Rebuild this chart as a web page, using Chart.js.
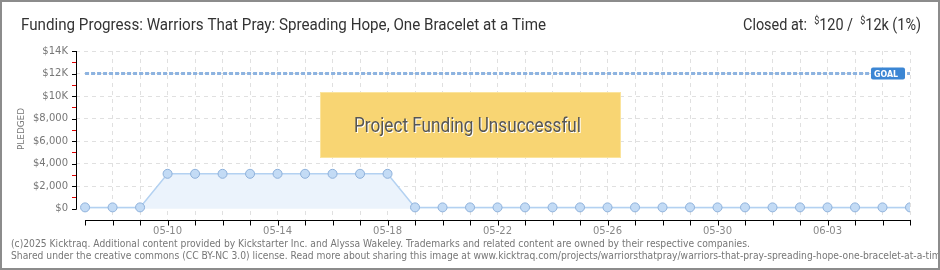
<!DOCTYPE html>
<html>
<head>
<meta charset="utf-8">
<script src="https://cdn.jsdelivr.net/npm/chart.js@4.4.0/dist/chart.umd.min.js"></script>
<style>
  html, body { margin: 0; padding: 0; background: #fff; }
  #wrap { position: relative; width: 940px; height: 270px; }
  #frame { position: absolute; left: 0; top: 0; width: 940px; height: 270px; box-sizing: border-box; border: 2px solid #8c8c8c; pointer-events: none; }
</style>
</head>
<body>
<div id="wrap">
  <canvas id="chart" width="940" height="270"></canvas>
  <div id="frame"></div>
</div>
<script>
// daily pledge totals, 05-07 .. 06-06
const dates = ['05-07', '05-08', '05-09', '05-10', '05-11', '05-12', '05-13', '05-14', '05-15', '05-16',
  '05-17', '05-18', '05-19', '05-20', '05-21', '05-22', '05-23', '05-24', '05-25', '05-26',
  '05-27', '05-28', '05-29', '05-30', '05-31', '06-01', '06-02', '06-03', '06-04', '06-05', '06-06']
const pledged = [120, 120, 120, 3100, 3100, 3100, 3100, 3100, 3100, 3100,
  3100, 3100, 120, 120, 120, 120, 120, 120, 120, 120,
  120, 120, 120, 120, 120, 120, 120, 120, 120, 120, 120]
const goal = 12000
const yTickValues = [0, 2000, 4000, 6000, 8000, 10000, 12000, 14000]
const yTickLabels = ['$0', '$2,000', '$4,000', '$6,000', '$8,000', '$10K', '$12K', '$14K']
const xLabelEvery = 4
const xLabelStart = 3

const title = 'Funding Progress: Warriors That Pray: Spreading Hope, One Bracelet at a Time'
const footer1 = '(c)2025 Kicktraq. Additional content provided by Kickstarter Inc. and Alyssa Wakeley. Trademarks and related content are owned by their respective companies.'
const footer2 = 'Shared under the creative commons (CC BY-NC 3.0) license. Read more about sharing this image at www.kicktraq.com/projects/warriorsthatpray/warriors-that-pray-spreading-hope-one-bracelet-at-a-time/'

function fitText(ctx, text, x, y, width) {
  const w = ctx.measureText(text).width
  ctx.save()
  ctx.translate(x, y)
  ctx.scale(width / w, 1)
  ctx.textAlign = 'left'
  ctx.fillText(text, 0, 0)
  ctx.restore()
  return width / w
}

const axesPlugin = {
  id: 'axes',
  afterDatasetsDraw(chart) {
    const { ctx, chartArea: a, scales: { x, y } } = chart
    ctx.save()
    ctx.lineWidth = 1
    ctx.strokeStyle = '#000'
    // y axis line
    ctx.beginPath()
    ctx.moveTo(a.left + 0.5, y.getPixelForValue(14000))
    ctx.lineTo(a.left + 0.5, y.getPixelForValue(0) + 1)
    ctx.stroke()
    for (let v = 0; v <= 14000; v += 1000) {
      const py = Math.round(y.getPixelForValue(v)) + 0.5
      ctx.strokeStyle = v % 2000 ? '#e00000' : '#000'
      ctx.beginPath()
      ctx.moveTo(a.left - 4, py)
      ctx.lineTo(a.left, py)
      ctx.stroke()
    }
    // x axis line
    ctx.strokeStyle = '#000'
    const by = Math.round(a.bottom) + 0.5
    ctx.beginPath()
    ctx.moveTo(x.getPixelForValue(0), by)
    ctx.lineTo(x.getPixelForValue(dates.length - 1) + 1, by)
    ctx.stroke()
    for (let i = 0; i < dates.length; i++) {
      const px = Math.round(x.getPixelForValue(i)) + 0.5
      ctx.beginPath()
      ctx.moveTo(px, by)
      ctx.lineTo(px, by + 5)
      ctx.stroke()
    }
    ctx.restore()
  },
  afterDraw(chart) {
    const { ctx, scales: { x, y } } = chart
    ctx.save()
    ctx.textBaseline = 'alphabetic'

    // title
    ctx.fillStyle = '#333'
    ctx.font = '16px Roboto'
    fitText(ctx, title, 21, 30, 525)

    // closed at
    const parts = [['Closed at:  ', 16, 0], ['$', 10, -6], ['120 /  ', 16, 0], ['$', 10, -6], ['12k (1%)', 16, 0]]
    let total = 0
    parts.forEach(p => { ctx.font = p[1] + 'px Roboto'; total += ctx.measureText(p[0]).width })
    const k = 178 / total
    ctx.save()
    ctx.translate(743, 30)
    ctx.scale(k, 1)
    let cx = 0
    parts.forEach(p => {
      ctx.font = p[1] + 'px Roboto'
      ctx.fillText(p[0], cx, p[2])
      cx += ctx.measureText(p[0]).width
    })
    ctx.restore()

    // y axis title
    ctx.save()
    ctx.translate(24, 150)
    ctx.rotate(-Math.PI / 2)
    ctx.fillStyle = '#777'
    ctx.font = '9px "DejaVu Sans"'
    fitText(ctx, 'PLEDGED', 0, 0, 42)
    ctx.restore()

    // goal tag
    const gy = y.getPixelForValue(goal)
    ctx.fillStyle = '#3b86d4'
    ctx.beginPath()
    ctx.roundRect(871, gy - 6, 34, 12, 2)
    ctx.fill()
    ctx.fillStyle = '#fff'
    ctx.font = 'bold 9px "DejaVu Sans"'
    fitText(ctx, 'GOAL', 874, gy + 3.5, 24)

    // unsuccessful banner
    ctx.fillStyle = '#f8d573'
    ctx.fillRect(320, 92, 301, 66)
    ctx.strokeStyle = '#fbe49d'
    ctx.strokeRect(320.5, 92.5, 300, 65)
    ctx.font = '20px Roboto'
    ctx.fillStyle = '#fff'
    fitText(ctx, 'Project Funding Unsuccessful', 355, 133, 227)
    ctx.fillStyle = '#555'
    fitText(ctx, 'Project Funding Unsuccessful', 354, 132, 227)

    // footer
    ctx.fillStyle = '#777'
    ctx.font = '10px "DejaVu Sans"'
    const fk = fitText(ctx, footer1, 11, 247, 739)
    ctx.save()
    ctx.translate(11, 259)
    ctx.scale(fk, 1)
    ctx.fillText(footer2, 0, 0)
    ctx.restore()

    ctx.restore()
  }
}

new Chart(document.getElementById('chart'), {
  type: 'line',
  data: {
    datasets: [
      {
        label: 'Goal',
        data: [{ x: 0, y: goal }, { x: dates.length - 1, y: goal }],
        borderColor: '#8db3e0',
        borderWidth: 3,
        borderDash: [4, 2],
        pointRadius: 0,
        fill: false
      },
      {
        label: 'Pledged',
        data: pledged.map((v, i) => ({ x: i, y: v })),
        borderColor: '#b3d1f1',
        borderWidth: 1.5,
        backgroundColor: '#ebf3fc',
        fill: 'origin',
        tension: 0,
        pointRadius: 4.5,
        pointBackgroundColor: '#c3dbf5',
        pointBorderColor: '#8eb1db',
        pointBorderWidth: 1
      }
    ]
  },
  options: {
    responsive: false,
    animation: false,
    layout: { padding: { top: 51, right: 30, left: 0, bottom: 0 } },
    plugins: {
      legend: { display: false },
      tooltip: { enabled: false }
    },
    scales: {
      x: {
        type: 'linear',
        min: -0.33,
        max: dates.length - 1,
        afterFit: s => { s.height = 50 },
        border: { display: false, dash: [4, 4] },
        grid: {
          drawTicks: false,
          color: c => Number.isInteger(c.tick.value) && c.tick.value >= 0 ? '#e0e0e0' : 'transparent'
        },
        ticks: {
          stepSize: 1,
          autoSkip: false,
          maxRotation: 0,
          padding: 5,
          color: '#888',
          font: { family: 'DejaVu Sans', size: 10 },
          callback: v => (Number.isInteger(v) && v >= xLabelStart && (v - xLabelStart) % xLabelEvery === 0) ? dates[v] : ''
        }
      },
      y: {
        min: -1000,
        max: 14000,
        afterFit: s => { s.width = 76 },
        border: { display: false, dash: [4, 4] },
        grid: {
          drawTicks: false,
          color: c => yTickValues.includes(c.tick.value) && c.tick.value > 0 ? '#e0e0e0' : 'transparent'
        },
        ticks: {
          stepSize: 1000,
          autoSkip: false,
          padding: 8,
          color: '#777',
          font: { family: 'DejaVu Sans', size: 10 },
          callback: v => {
            const i = yTickValues.indexOf(v)
            return i >= 0 ? yTickLabels[i] : ''
          }
        }
      }
    }
  },
  plugins: [axesPlugin]
})
</script>
</body>
</html>
